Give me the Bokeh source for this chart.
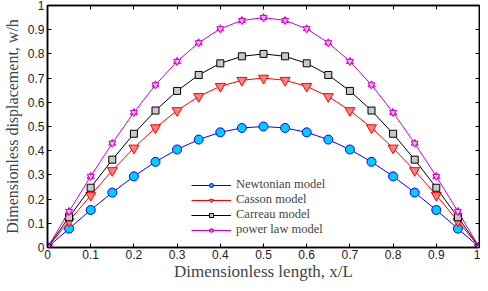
from bokeh.plotting import figure
from bokeh.models import (Range1d, LinearAxis, FixedTicker, CustomJSTickFormatter,
                          Legend, LegendItem)
from bokeh.embed import file_html
from bokeh.resources import INLINE

x = [0, 0.05, 0.1, 0.15, 0.2, 0.25, 0.3, 0.35, 0.4, 0.45, 0.5,
     0.55, 0.6, 0.65, 0.7, 0.75, 0.8, 0.85, 0.9, 0.95, 1.0]
newtonian = [0, 0.078, 0.155, 0.227, 0.294, 0.354, 0.405, 0.446, 0.476, 0.494, 0.5,
             0.494, 0.476, 0.446, 0.405, 0.354, 0.294, 0.227, 0.155, 0.078, 0]
casson = [0, 0.109, 0.216, 0.318, 0.411, 0.495, 0.566, 0.624, 0.666, 0.691, 0.7,
          0.691, 0.666, 0.624, 0.566, 0.495, 0.411, 0.318, 0.216, 0.109, 0]
carreau = [0, 0.125, 0.247, 0.363, 0.470, 0.566, 0.647, 0.713, 0.761, 0.790, 0.8,
           0.790, 0.761, 0.713, 0.647, 0.566, 0.470, 0.363, 0.247, 0.125, 0]
power_law = [0, 0.149, 0.294, 0.431, 0.558, 0.672, 0.769, 0.846, 0.904, 0.938, 0.95,
             0.938, 0.904, 0.846, 0.769, 0.672, 0.558, 0.431, 0.294, 0.149, 0]
ticks = [0, 0.1, 0.2, 0.3, 0.4, 0.5, 0.6, 0.7, 0.8, 0.9, 1.0]

p = figure(width=480, height=283, output_backend="svg", toolbar_location=None,
           x_range=Range1d(0, 1), y_range=Range1d(0, 1),
           min_border_left=47, min_border_right=1, min_border_top=5, min_border_bottom=31)
p.grid.visible = False
p.outline_line_color = "black"
p.outline_line_width = 1.5

fmt = CustomJSTickFormatter(code="return tick.toFixed(1).replace(/\\.0$/, '');")
for ax in (p.xaxis[0], p.yaxis[0]):
    ax.ticker = FixedTicker(ticks=ticks)
    ax.formatter = fmt
    ax.major_tick_in = 4
    ax.major_tick_out = 0
    ax.minor_tick_line_color = None
    ax.axis_line_width = 1.5
    ax.major_label_text_font = "Liberation Sans"
    ax.major_label_text_font_size = "12px"
    ax.major_label_text_color = "#222222"
    ax.axis_label_text_font = "Liberation Serif"
    ax.axis_label_text_font_style = "normal"
    ax.major_label_standoff = 3

p.xaxis[0].axis_label = "Dimensionless length, x/L"
p.xaxis[0].axis_label_text_font_size = "17px"
p.xaxis[0].axis_label_standoff = 0
p.xaxis[0].major_label_standoff = 2
p.yaxis[0].axis_label = "Dimensionless displacement, w/h"
p.yaxis[0].axis_label_text_font_size = "16px"
p.yaxis[0].axis_label_standoff = 4

blank = CustomJSTickFormatter(code="return '';")
for loc in ("above", "right"):
    a = LinearAxis(ticker=FixedTicker(ticks=ticks), formatter=blank,
                   major_tick_in=4, major_tick_out=0, minor_tick_line_color=None,
                   axis_line_width=1.5, major_label_standoff=0)
    p.add_layout(a, loc)

r1l = p.line(x, newtonian, line_color="#0000ff", line_width=1)
r1m = p.scatter(x, newtonian, marker="circle", size=9, fill_color="#00ccff",
                line_color="#0000ff", line_width=1)
r2l = p.line(x, casson, line_color="#ff0000", line_width=1)
r2m = p.scatter(x, casson, marker="inverted_triangle", size=10, fill_color="#ff7f7f",
                line_color="#ff0000", line_width=1)
r3l = p.line(x, carreau, line_color="black", line_width=1)
r3m = p.scatter(x, carreau, marker="square", size=7, fill_color="#c8c8c8",
                line_color="black", line_width=1)
r4l = p.line(x, power_law, line_color="#cc00cc", line_width=1)
r4a = p.scatter(x, power_law, marker="triangle", size=7, fill_color="#ffb0ff",
                line_color="#cc00cc", line_width=1)
r4b = p.scatter(x, power_law, marker="inverted_triangle", size=7, fill_color="#ffb0ff",
                line_color="#cc00cc", line_width=1)

legend = Legend(items=[
    LegendItem(label="Newtonian model", renderers=[r1l, r1m]),
    LegendItem(label="Casson model", renderers=[r2l, r2m]),
    LegendItem(label="Carreau model", renderers=[r3l, r3m]),
    LegendItem(label="power law model", renderers=[r4l, r4a, r4b]),
], location=(144, 10))
legend.border_line_color = None
legend.background_fill_alpha = 0
legend.label_text_font = "Liberation Serif"
legend.label_text_font_size = "12.5px"
legend.glyph_width = 40
legend.glyph_height = 10
legend.label_height = 10
legend.spacing = 0
legend.padding = 2
legend.label_standoff = 5
p.add_layout(legend)

open("out.html", "w").write(file_html(p, INLINE))
